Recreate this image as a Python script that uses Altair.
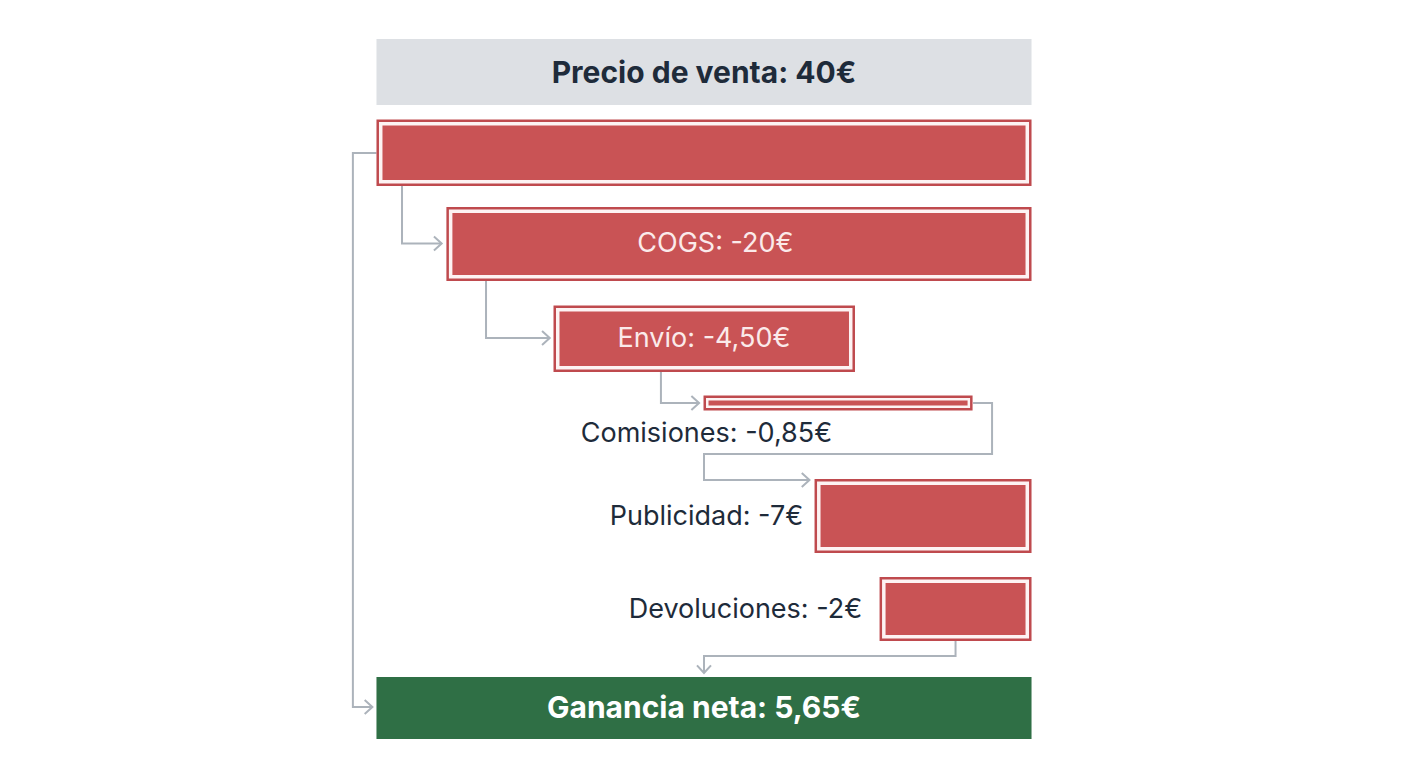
import altair as alt
import pandas as pd

# Cost bars: start / end on the euro scale, top / bottom on the row scale
cost_start = [0, 4.27, 10.81, 19.97, 26.75, 30.72]
cost_end = [40, 40, 29.22, 36.40, 40, 40]
cost_top = [119.5, 207, 305.5, 395.5, 479, 577]
cost_bottom = [186, 281, 372, 410.5, 553, 641]

# Solid header and result bands
band_start = [0, 0]
band_end = [40, 40]
band_top = [39, 677]
band_bottom = [105, 739]
band_color = ['#dde0e4', '#2f6f45']

# Labels
labels = ['Precio de venta: 40€', 'COGS: -20€', 'Envío: -4,50€', 'Comisiones: -0,85€',
          'Publicidad: -7€', 'Devoluciones: -2€', 'Ganancia neta: 5,65€']
label_x = [20, 20.7, 20, 20.15, 20.15, 22.53, 20]
label_y = [74, 244, 339, 434, 517, 610, 709]
label_color = ['#1e2b3a', '#fbeaea', '#fbeaea', '#1e2b3a', '#1e2b3a', '#1e2b3a', '#ffffff']
label_weight = ['bold', 'normal', 'normal', 'normal', 'normal', 'normal', 'bold']

# Connectors, one list of elbows each
link_x = [
    [0, -1.44, -1.44, -0.25],
    [1.56, 1.56, 3.98],
    [6.69, 6.69, 10.58],
    [17.37, 17.37, 19.7],
    [36.43, 37.59, 37.59, 20, 20, 26.44],
    [35.36, 35.36, 20, 20],
]
link_y = [
    [153, 153, 707, 707],
    [186, 243.5, 243.5],
    [281, 338, 338],
    [372, 403, 403],
    [403, 403, 454, 454, 480, 480],
    [641, 656, 656, 673],
]
link_angle = [0, 0, 0, 0, 0, 90]

RED = '#c95355'
EDGE = '#bf4a4e'
RING = '#fdf3f3'
LINK = '#acb3bb'
CHEVRON = 'M-1.1,-1L0,0L-1.1,1'

costs = pd.DataFrame({'start': cost_start, 'end': cost_end, 'top': cost_top, 'bottom': cost_bottom})
bands = pd.DataFrame({'start': band_start, 'end': band_end, 'top': band_top,
                      'bottom': band_bottom, 'color': band_color})
texts = pd.DataFrame({'label': labels, 'x': label_x, 'y': label_y, 'color': label_color,
                      'weight': label_weight})

link_rows = []
tips = []
for i, (xs, ys) in enumerate(zip(link_x, link_y)):
    for j, (px, py) in enumerate(zip(xs, ys)):
        link_rows.append({'link': i, 'step': j, 'x': px, 'y': py})
    tips.append({'x': xs[-1], 'y': ys[-1], 'angle': link_angle[i]})
links = pd.DataFrame(link_rows)
tips = pd.DataFrame(tips)

# the comisiones bar is too thin for the full inner margin
thin = costs['bottom'] - costs['top'] < 20

x_scale = alt.Scale(domain=[-22.5, 62.5], nice=False, zero=False)
y_scale = alt.Scale(domain=[8, 758], nice=False, zero=False, reverse=True)


def box(data, **mark):
    return alt.Chart(data).mark_rect(**mark).encode(
        x=alt.X('start:Q', scale=x_scale, axis=None),
        x2='end:Q',
        y=alt.Y('top:Q', scale=y_scale, axis=None),
        y2='bottom:Q'
    )


def inset(data, color, by):
    return box(data, color=color, xOffset=by, x2Offset=-by, yOffset=by, y2Offset=-by)


band_layer = alt.Chart(bands).mark_rect().encode(
    x=alt.X('start:Q', scale=x_scale, axis=None),
    x2='end:Q',
    y=alt.Y('top:Q', scale=y_scale, axis=None),
    y2='bottom:Q',
    color=alt.Color('color:N', scale=None)
)

link_layer = alt.Chart(links).mark_line(color=LINK, strokeWidth=2, strokeJoin='miter').encode(
    x=alt.X('x:Q', scale=x_scale, axis=None),
    y=alt.Y('y:Q', scale=y_scale, axis=None),
    detail='link:N',
    order='step:Q'
)

tip_layer = alt.Chart(tips).mark_point(shape=CHEVRON, size=196, color=LINK, filled=False,
                                       strokeWidth=2, opacity=1).encode(
    x=alt.X('x:Q', scale=x_scale, axis=None),
    y=alt.Y('y:Q', scale=y_scale, axis=None),
    angle=alt.Angle('angle:Q', scale=None)
)


def text_layer(weight, size):
    return alt.Chart(texts[texts['weight'] == weight]).mark_text(
        font='Inter', fontSize=size, fontWeight=weight, align='center', baseline='middle'
    ).encode(
        x=alt.X('x:Q', scale=x_scale, axis=None),
        y=alt.Y('y:Q', scale=y_scale, axis=None),
        text='label:N',
        color=alt.Color('color:N', scale=None)
    )


chart = alt.layer(
    link_layer,
    tip_layer,
    band_layer,
    box(costs, color=EDGE),
    inset(costs, RING, 2.5),
    inset(costs[~thin], RED, 6),
    inset(costs[thin], RED, 5),
    text_layer('bold', 30),
    text_layer('normal', 27)
).properties(
    width=1392,
    height=750,
    padding=0,
    autosize=alt.AutoSizeParams(type='none'),
    background='#ffffff'
).configure_view(stroke=None)

chart.save("out.html", embed_options={"renderer": "svg", "actions": False})
